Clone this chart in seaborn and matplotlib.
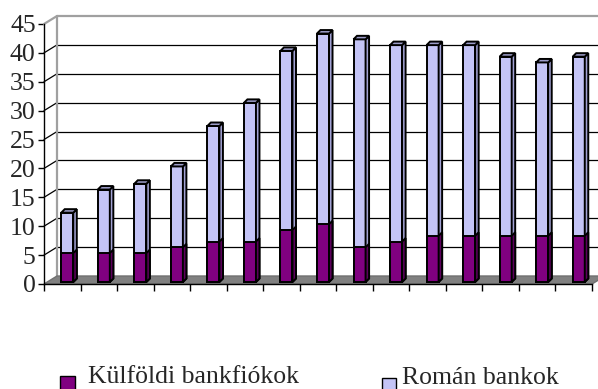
import numpy as np
import pandas as pd
import matplotlib
matplotlib.use("Agg")
import matplotlib.pyplot as plt
from matplotlib.patches import Polygon, Rectangle
from matplotlib.transforms import offset_copy
import seaborn as sns

# ---- data -------------------------------------------------------------
periods = [str(i) for i in range(1, 16)]
kulfoldi_bankfiokok = [5, 5, 5, 6, 7, 7, 9, 10, 6, 7, 8, 8, 8, 8, 8]
roman_bankok = [7, 11, 12, 14, 20, 24, 31, 33, 36, 34, 33, 33, 31, 30, 31]
y_ticks = [0, 5, 10, 15, 20, 25, 30, 35, 40, 45]
series_labels = ["Külföldi bankfiókok", "Román bankok"]

df = pd.DataFrame({
    "period": periods,
    "kulfoldi": kulfoldi_bankfiokok,
    "roman": roman_bankok,
})
df["total"] = df["kulfoldi"] + df["roman"]

# ---- style ------------------------------------------------------------
sns.set_style("white")
plt.rcParams["font.family"] = ["Liberation Serif", "DejaVu Serif"]

PURPLE, PURPLE_SIDE = "#800080", "#5c005c"
LAVENDER, LAVENDER_SIDE, LAVENDER_TOP = "#c4c4f6", "#a2a2d4", "#9c9cc8"
WALL_EDGE, FLOOR = "#a0a0a0", "#808080"
FS = 18.5
EDGE_LW = 1.4

W, H = 598, 389
fig = plt.figure(figsize=(W / 100, H / 100), dpi=100)
ax = fig.add_axes([44 / W, (H - 284) / H, 548 / W, 260 / H])

# ---- stacked bars (front faces) -----------------------------------------
n0 = len(ax.patches)
sns.barplot(data=df, x="period", y="total", color=LAVENDER, width=0.33,
            saturation=1, edgecolor="black", linewidth=EDGE_LW, ax=ax, zorder=3)
top_bars = ax.patches[n0:]
n1 = len(ax.patches)
sns.barplot(data=df, x="period", y="kulfoldi", color=PURPLE, width=0.33,
            saturation=1, edgecolor="black", linewidth=EDGE_LW, ax=ax, zorder=4)
bottom_bars = ax.patches[n1:]

ax.set_xlim(-0.5, len(periods) - 0.5)
ax.set_ylim(0, 45)

# pixel -> data unit factors
ux = len(periods) / 548
uy = 45 / 260

# bars sit a little behind the front axis plane
bar_trans = offset_copy(ax.transData, fig=fig, x=5, y=2, units="dots")
bdx, bdy = 3.5 * ux, 3.5 * uy


def add_depth(patch, side_color, top_color, z):
    patch.set_transform(bar_trans)
    x0, y0 = patch.get_x(), patch.get_y()
    x1, y1 = x0 + patch.get_width(), y0 + patch.get_height()
    side = Polygon([(x1, y0), (x1 + bdx, y0 + bdy), (x1 + bdx, y1 + bdy), (x1, y1)],
                   closed=True, facecolor=side_color, edgecolor="black",
                   linewidth=EDGE_LW, joinstyle="miter", transform=bar_trans,
                   zorder=z)
    ax.add_patch(side)
    if top_color is not None:
        top = Polygon([(x0, y1), (x1, y1), (x1 + bdx, y1 + bdy), (x0 + bdx, y1 + bdy)],
                      closed=True, facecolor=top_color, edgecolor="black",
                      linewidth=EDGE_LW, joinstyle="miter", transform=bar_trans,
                      zorder=z)
        ax.add_patch(top)


for p in top_bars:
    add_depth(p, LAVENDER_SIDE, LAVENDER_TOP, 3)
for p in bottom_bars:
    add_depth(p, PURPLE_SIDE, None, 4)

# ---- 3D walls, gridlines and floor ----------------------------------------
wdx, wdy = 13 * ux, 8 * uy
x_left, x_right = -0.5, len(periods) - 0.5

for v in y_ticks[1:-1]:
    ax.plot([x_left, x_left + wdx], [v, v + wdy], color="black", lw=0.9,
            clip_on=False, zorder=0.5)
    ax.plot([x_left + wdx, x_right + wdx], [v + wdy, v + wdy], color="black",
            lw=0.9, clip_on=False, zorder=0.5)

top_v = y_ticks[-1]
ax.plot([x_left + wdx, x_left + wdx], [wdy, top_v + wdy], color=WALL_EDGE,
        lw=1.6, clip_on=False, zorder=0.6)
ax.plot([x_left + wdx, x_right + wdx], [top_v + wdy, top_v + wdy],
        color=WALL_EDGE, lw=1.6, clip_on=False, zorder=0.6)
ax.plot([x_left, x_left + wdx], [top_v, top_v + wdy], color=WALL_EDGE,
        lw=1.6, clip_on=False, zorder=0.6)

floor = Polygon([(x_left, 0), (x_right, 0), (x_right + wdx, wdy), (x_left + wdx, wdy)],
                closed=True, facecolor=FLOOR, edgecolor="#707070", linewidth=1.0,
                clip_on=False, zorder=1)
ax.add_patch(floor)

# ---- axes -------------------------------------------------------------
for s in ("top", "right"):
    ax.spines[s].set_visible(False)
for s in ("left", "bottom"):
    ax.spines[s].set_color("black")
    ax.spines[s].set_linewidth(1.0)
    ax.spines[s].set_zorder(5)

ax.set_yticks(y_ticks)
ax.set_yticklabels([str(v) for v in y_ticks])
ax.set_xticks(np.arange(x_left, x_right + 0.01, 1.0))
ax.set_xticklabels([])
ax.tick_params(axis="y", direction="out", length=4, width=1.0, color="black",
               labelsize=FS, pad=2, left=True)
ax.tick_params(axis="x", direction="out", length=5, width=1.0, color="black",
               bottom=True)
ax.set_xlabel("")
ax.set_ylabel("")
ax.grid(False)
ax.patch.set_alpha(0)

# ---- legend -----------------------------------------------------------
fig.patches.append(Rectangle((60 / W, -2 / H), 15 / W, 15 / H, facecolor=PURPLE,
                             edgecolor="black", linewidth=1.0,
                             transform=fig.transFigure, figure=fig))
fig.text(88 / W, 6 / H, series_labels[0], fontsize=FS, va="baseline", ha="left")
fig.patches.append(Rectangle((382 / W, -3 / H), 14 / W, 14 / H, facecolor=LAVENDER,
                             edgecolor="black", linewidth=1.0,
                             transform=fig.transFigure, figure=fig))
fig.text(402 / W, 5 / H, series_labels[1], fontsize=FS, va="baseline", ha="left")

fig.savefig("out.png", dpi=100)
